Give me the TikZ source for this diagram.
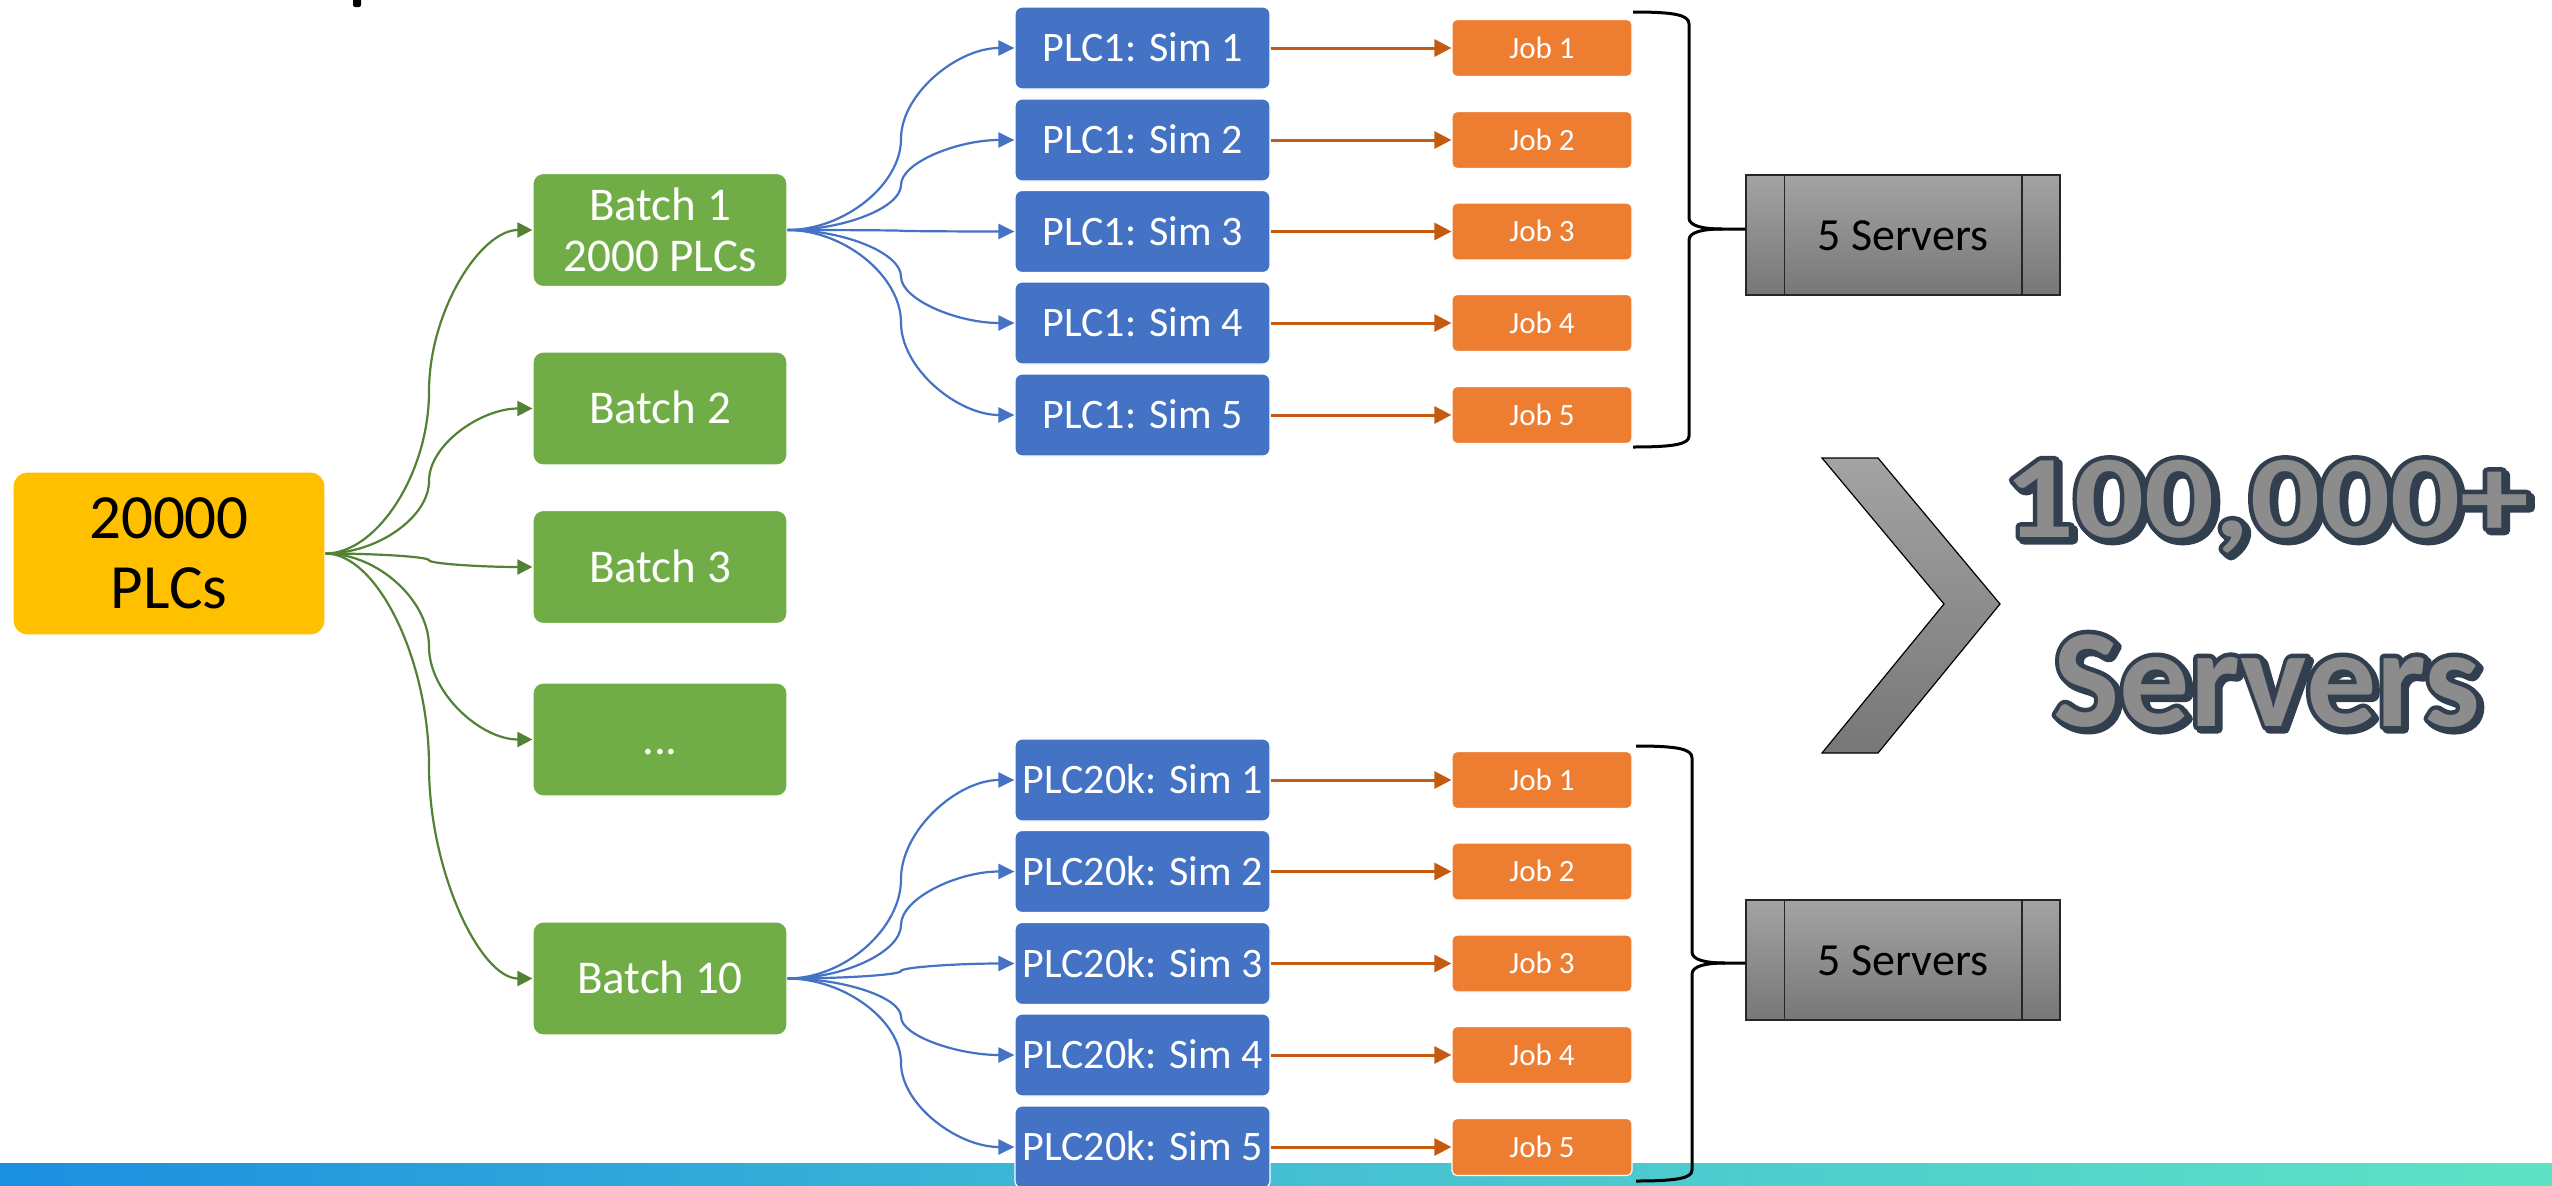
\documentclass[tikz,border=0pt]{standalone}
\usepackage{fontspec}
\setmainfont{Carlito}
\usetikzlibrary{arrows.meta,calc}
\definecolor{cYel}{HTML}{FFC000}
\definecolor{cGrn}{HTML}{70AD47}
\definecolor{cGrnD}{HTML}{548235}
\definecolor{cBlu}{HTML}{4472C4}
\definecolor{cOrg}{HTML}{ED7D31}
\definecolor{cOrgD}{HTML}{C55A11}
\definecolor{cSlate}{HTML}{323F4F}
\definecolor{cTxt}{HTML}{8C8C8C}
\definecolor{cBarL}{HTML}{1B8FE0}
\definecolor{cBarM}{HTML}{45BFD3}
\definecolor{cBarR}{HTML}{5DE3C4}
\definecolor{cGrT}{HTML}{A3A3A3}
\definecolor{cGrB}{HTML}{777777}
\newcommand\myoutl[1]{\special{pdf:literal direct 2 Tr 9 w 1 j 0.196 0.247 0.310 RG}#1\special{pdf:literal direct 0 Tr}}
\begin{document}
\begin{tikzpicture}[x=1pt,y=-1pt,
  basebox/.style={rectangle, inner sep=0pt, draw=white, line width=1.2pt, text=white},
  srcbox/.style={basebox, fill=cYel, text=black, align=center, minimum width=312pt, minimum height=163pt, rounded corners=14pt, font=\fontsize{63}{70}\selectfont},
  batchbox/.style={basebox, fill=cGrn, minimum width=254pt, minimum height=113pt, rounded corners=10pt, font=\fontsize{47}{51}\selectfont, text height=30pt, text depth=0pt},
  batchtwo/.style={basebox, fill=cGrn, align=center, minimum width=254pt, minimum height=113pt, rounded corners=10pt, font=\fontsize{47}{51}\selectfont},
  simbox/.style={basebox, fill=cBlu, minimum width=255pt, minimum height=82pt, rounded corners=7pt, font=\fontsize{42}{46}\selectfont, text height=27pt, text depth=0pt},
  jobbox/.style={basebox, fill=cOrg, minimum width=180pt, minimum height=57pt, rounded corners=5pt, font=\fontsize{31}{34}\selectfont, text height=20pt, text depth=0pt},
  servbox/.style={rectangle, draw=black!85, line width=1.5pt, top color=cGrT, bottom color=cGrB, minimum width=314pt, minimum height=120pt, inner sep=0pt, font=\fontsize{46}{50}\selectfont, text height=30pt, text depth=0pt},
  pptc/.style={to path={let \p1=(\tikztostart), \p2=(\tikztotarget) in
     .. controls ({(3*\x1+\x2)/4},\y1) and ({(\x1+\x2)/2},{(3*\y1+\y2)/4}) .. ({(\x1+\x2)/2},{(\y1+\y2)/2})
     .. controls ({(\x1+\x2)/2},{(\y1+3*\y2)/4}) and ({(\x1+3*\x2)/4},\y2) .. (\tikztotarget)}},
  garr/.style={draw=cGrnD, line width=2.2pt, -{Triangle[length=15pt,width=15pt]}},
  barr/.style={draw=cBlu, line width=2.2pt, -{Triangle[length=16pt,width=15pt]}},
  oarr/.style={draw=cOrgD, line width=3pt, -{Triangle[length=17pt,width=17pt]}},
  bracel/.style={draw=black, line width=3pt},
  bigA/.style={anchor=base, inner sep=0pt, font=\bfseries\fontsize{118}{120}\selectfont},
  bigB/.style={anchor=base, inner sep=0pt, font=\bfseries\fontsize{140}{144}\selectfont},
]
\useasboundingbox (0,0) rectangle (2552,1186);
\fill[white] (0,0) rectangle (2552,1186);
% bottom band
\shade[left color=cBarL, right color=cBarR, middle color=cBarM] (0,1163) rectangle (2552,1186);
% cut-off glyph fragment at the top
\fill[black, rounded corners=2pt] (353,-4) rectangle (361,7);

% nodes
\node[srcbox] (src) at (169,553.5) {20000\\PLCs};
\node[batchtwo] (b1) at (660,230) {Batch 1\\2000 PLCs};
\node[batchbox] (b2) at (660,408.5) {Batch 2};
\node[batchbox] (b3) at (660,567) {Batch 3};
\node[batchbox] (bd) at (660,739.5) {...};
\node[batchbox] (b10) at (660,978.5) {Batch 10};

\foreach \i/\y in {1/48,2/140,3/231.5,4/323,5/415} {
  \node[simbox] (p\i) at (1142.5,\y) {PLC1: Sim \i};
  \node[jobbox] (j\i) at (1542,\y) {Job \i};
}
\foreach \i/\y in {1/780,2/871.5,3/963.5,4/1055,5/1147} {
  \node[simbox] (q\i) at (1142.5,\y) {PLC20k: Sim \i};
  \node[jobbox] (k\i) at (1542,\y) {Job \i};
}

% connectors
\foreach \b in {b1,b2,b3,bd,b10} \draw[garr] (src.east) to[pptc] (\b.west);
\foreach \i in {1,...,5} {
  \draw[barr] (b1.east) to[pptc] (p\i.west);
  \draw[barr] (b10.east) to[pptc] (q\i.west);
  \draw[oarr] (p\i.east) -- (j\i.west);
  \draw[oarr] (q\i.east) -- (k\i.west);
}

% server boxes
\node[servbox] (s1) at (1903,235) {5 Servers};
\node[servbox] (s2) at (1903,960) {5 Servers};
\foreach \s in {s1,s2} {
  \draw[black!85, line width=1.5pt] ($(\s.north west)+(39,0)$) -- ($(\s.south west)+(39,0)$);
  \draw[black!85, line width=1.5pt] ($(\s.north east)+(-39,0)$) -- ($(\s.south east)+(-39,0)$);
}

% braces
\coordinate (t1) at (1722,229);
\draw[bracel] (1633,12) .. controls (1675,12) and (1689,15) .. (1689,24) -- (1689,218)
   .. controls (1689,226) and (1703,229) .. (t1) -- (s1.west |- t1);
\draw[bracel] (t1) .. controls (1703,229) and (1689,232) .. (1689,240) -- (1689,436)
   .. controls (1689,444) and (1675,447) .. (1633,447);
\coordinate (t2) at (1725,963);
\draw[bracel] (1636,746) .. controls (1678,746) and (1692,749) .. (1692,758) -- (1692,952)
   .. controls (1692,960) and (1706,963) .. (t2) -- (s2.west |- t2);
\draw[bracel] (t2) .. controls (1706,963) and (1692,966) .. (1692,974) -- (1692,1170)
   .. controls (1692,1178) and (1678,1181) .. (1636,1181);

% chevron
\shadedraw[top color=cGrT, bottom color=cGrB, draw=black, line width=1.2pt]
  (1822,458) -- (1878,458) -- (2000,604) -- (1878,753) -- (1822,753) -- (1944,604) -- cycle;

% big outlined text: shadow, outlined text, clean fill on top
\node[bigA, text=cSlate] (sa) at (2270,540) {\myoutl{\scalebox{1.17}[1]{100,000+}}};
\node[bigA, text=cTxt] (oa) at (2267,537) {\myoutl{\scalebox{1.17}[1]{100,000+}}};
\node[bigA, text=cTxt] (big1) at (2267,537) {\scalebox{1.17}[1]{100,000+}};
\node[bigB, text=cSlate] (sb) at (2270,729) {\myoutl{Servers}};
\node[bigB, text=cTxt] (ob) at (2267,726) {\myoutl{Servers}};
\node[bigB, text=cTxt] (big2) at (2267,726) {Servers};
\end{tikzpicture}
\end{document}
